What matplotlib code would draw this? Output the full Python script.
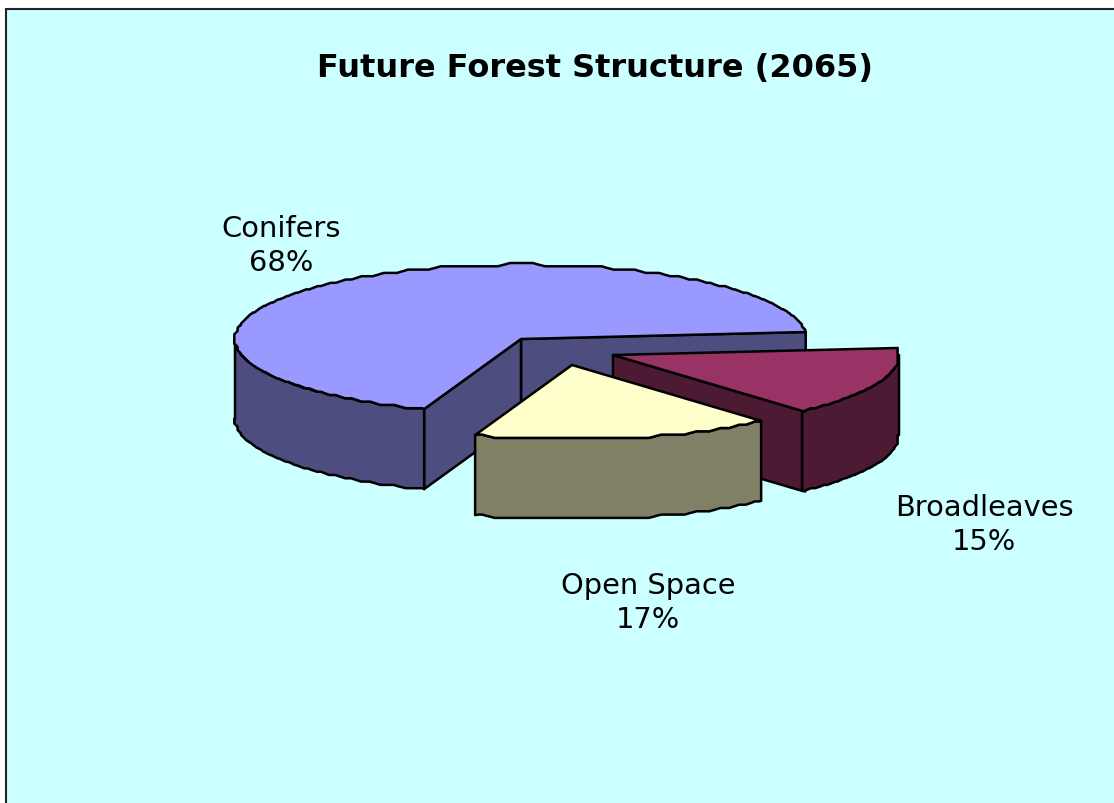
import numpy as np
import matplotlib
matplotlib.use("Agg")
from matplotlib import pyplot as plt
from matplotlib.patches import Polygon, Rectangle

title = "Future Forest Structure (2065)"
categories = ["Conifers", "Open Space", "Broadleaves"]
values = [68, 17, 15]

top_colors = ["#9999FF", "#FFFFCC", "#993366"]
side_colors = ["#4D4D80", "#808066", "#4D1A33"]
apexes = [(521, 340), (572, 366), (613, 356)]
label_pos = [(281, 245), (648, 602), (984, 524)]
draw_order = [0, 2, 1]

start_angle = 5.4
rx, ry = 286, 74.5
depth = 80
grid = 3.3


def arc(cx, cy, a0, a1):
    # outline of the pie rim, snapped to a coarse grid so it gets the wavy look
    n = max(int(abs(a1 - a0) * 2), 2)
    t = np.radians(np.linspace(a0, a1, n))
    x = cx + rx * np.cos(t)
    y = cy - ry * np.sin(t)
    sx = np.round(x / grid) * grid
    sy = np.round(y / grid) * grid
    kernel = np.ones(5) / 5
    if n > 10:
        sx[2:-2] = np.convolve(sx, kernel, mode="valid")
        sy[2:-2] = np.convolve(sy, kernel, mode="valid")
    sx[0], sy[0], sx[-1], sy[-1] = x[0], y[0], x[-1], y[-1]
    return np.column_stack([sx, sy])


def add_poly(ax, pts, color):
    ax.add_patch(Polygon(pts, closed=True, facecolor=color, edgecolor="black",
                         linewidth=1.8, joinstyle="round"))


def draw_slice(ax, apex, a0, a1, top, side):
    cx, cy = apex
    drop = np.array([0, depth])
    # cut faces, only the ones turned towards the viewer
    for ang, visible in ((a0, np.cos(np.radians(a0)) > 0), (a1, np.cos(np.radians(a1)) < 0)):
        if visible:
            p = arc(cx, cy, ang, ang + 0.01)[0]
            add_poly(ax, [apex, p, p + drop, np.array(apex) + drop], side)
    # front rim
    lo, hi = max(a0, 180), min(a1, 360)
    if hi > lo:
        rim = arc(cx, cy, lo, hi)
        add_poly(ax, np.vstack([rim, (rim + drop)[::-1]]), side)
    # top face
    add_poly(ax, np.vstack([[apex], arc(cx, cy, a0, a1)]), top)


fig = plt.figure(figsize=(11.14, 8.04), dpi=100, facecolor="white")
ax = fig.add_axes([0, 0, 1, 1])
ax.set_xlim(0, 1114)
ax.set_ylim(804, 0)
ax.axis("off")

ax.add_patch(Rectangle((6, 10), 1200, 900, facecolor="#CCFFFF", edgecolor="#222222", linewidth=1.5))

edges = start_angle + np.cumsum([0] + values) * 3.6
for i in draw_order:
    draw_slice(ax, apexes[i], edges[i], edges[i + 1], top_colors[i], side_colors[i])

ax.text(595, 69, title, ha="center", va="center", fontsize=23, fontweight="bold", color="black")
for name, val, pos in zip(categories, values, label_pos):
    ax.text(pos[0], pos[1] + 1, f"{name}\n{val}%", ha="center", va="center", fontsize=20.8,
            color="black", linespacing=1.28)

fig.savefig("out.png", dpi=100)
